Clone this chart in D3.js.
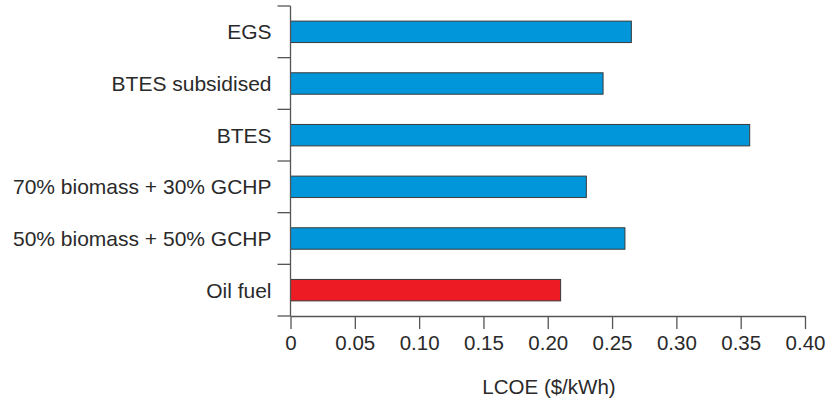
<!DOCTYPE html>
<html><head><meta charset="utf-8">
<script src="https://cdn.jsdelivr.net/npm/d3@7"></script>
<style>body{margin:0;background:#fff}svg{display:block}text{font-family:"Liberation Sans",Arial,sans-serif;fill:#2a2a2a}</style>
</head><body><svg id="c" width="831" height="401"></svg>
<script>
const categories = ["EGS","BTES subsidised","BTES","70% biomass + 30% GCHP","50% biomass + 50% GCHP","Oil fuel"];
const values = [0.265, 0.243, 0.357, 0.23, 0.26, 0.21];
const barColors = ["#0096d9","#0096d9","#0096d9","#0096d9","#0096d9","#ed1c24"];
const xTicks = [0,0.05,0.10,0.15,0.20,0.25,0.30,0.35,0.40];
const xTickLabels = ["0","0.05","0.10","0.15","0.20","0.25","0.30","0.35","0.40"];
const xTitle = "LCOE ($/kWh)";

const svg = d3.select("#c");
const mLeft = 290.5, mRight = 805, mTop = 6, mBottom = 316;
const fs = 20.5, fsCat = 21;
const x = d3.scaleLinear().domain([0,0.4]).range([mLeft,mRight]);
const y = d3.scaleBand().domain(categories).range([mTop,mBottom]).paddingInner(0.585).paddingOuter(0.2925);

// bars
svg.selectAll("rect.bar").data(categories).join("rect")
  .attr("x", x(0)).attr("y", d=>y(d))
  .attr("width", (d,i)=>x(values[i])-x(0)).attr("height", y.bandwidth())
  .attr("fill", (d,i)=>barColors[i]).attr("stroke","#3a3a3a").attr("stroke-width",1);

// y axis: ticks at band boundaries
const bounds = d3.range(categories.length+1).map(i=>mTop + i*(mBottom-mTop)/categories.length);
const gy = svg.append("g");
gy.append("line").attr("x1",mLeft).attr("x2",mLeft).attr("y1",mTop).attr("y2",mBottom).attr("stroke","#555").attr("stroke-width",1.3);
gy.selectAll("line.t").data(bounds).join("line").attr("class","t")
  .attr("x1",mLeft-13).attr("x2",mLeft).attr("y1",d=>d).attr("y2",d=>d).attr("stroke","#555").attr("stroke-width",1.3);
gy.selectAll("text").data(categories).join("text")
  .attr("x",mLeft-19).attr("y",d=>y(d)+y.bandwidth()/2).attr("dy","0.36em")
  .attr("text-anchor","end").attr("font-size",fsCat).text(d=>d);

// x axis
const xAxis = d3.axisBottom(x).tickValues(xTicks).tickFormat((d,i)=>xTickLabels[i]).tickSize(13).tickPadding(6).tickSizeOuter(0);
const gx = svg.append("g").attr("transform",`translate(0,${mBottom})`).call(xAxis);
gx.select(".domain").attr("stroke","#555").attr("stroke-width",1.3);
gx.selectAll(".tick line").attr("stroke","#555").attr("stroke-width",1.3);
gx.selectAll(".tick text").attr("font-size",fs).attr("font-family","Liberation Sans, Arial, sans-serif").attr("fill","#2a2a2a");

svg.append("text").attr("x",549).attr("y",394).attr("text-anchor","middle").attr("font-size",fs).text(xTitle);
</script></body></html>
